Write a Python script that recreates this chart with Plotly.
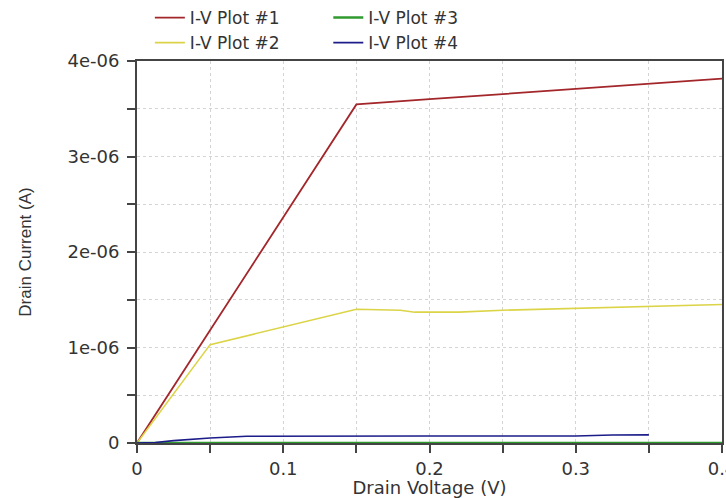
import plotly.graph_objects as go

# Data
x1 = [0, 0.15, 0.2, 0.25, 0.3, 0.35, 0.4]
y1 = [0, 3.545e-6, 3.60e-6, 3.655e-6, 3.71e-6, 3.76e-6, 3.815e-6]

x2 = [0, 0.05, 0.15, 0.18, 0.19, 0.22, 0.25, 0.3, 0.35, 0.4]
y2 = [0, 1.03e-6, 1.40e-6, 1.39e-6, 1.37e-6, 1.37e-6, 1.39e-6, 1.41e-6, 1.43e-6, 1.45e-6]

x3 = [0, 0.1, 0.2, 0.3, 0.4]
y3 = [0, 0, 0, 0, 0]

x4 = [0, 0.0125, 0.025, 0.0375, 0.05, 0.075, 0.1, 0.15, 0.2, 0.25, 0.3, 0.325, 0.35]
y4 = [0, 0.5e-8, 2.5e-8, 4.0e-8, 5.2e-8, 7.0e-8, 7.2e-8, 7.3e-8, 7.3e-8, 7.4e-8, 7.4e-8, 8.3e-8, 8.5e-8]

names = ["I-V Plot #1", "I-V Plot #2", "I-V Plot #3", "I-V Plot #4"]
colors = ["#a3262a", "#dcd447", "#2f9a2f", "#1c1c8a"]
widths = [1.8, 1.6, 2.6, 1.6]

y_tickvals = [0, 1e-6, 2e-6, 3e-6, 4e-6]
y_ticktext = ["0", "1e-06", "2e-06", "3e-06", "4e-06"]
x_tickvals = [0, 0.1, 0.2, 0.3, 0.4]
x_ticktext = ["0", "0.1", "0.2", "0.3", "0.4"]

fig = go.Figure()
series = [(x1, y1), (x2, y2), (x3, y3), (x4, y4)]
legends = ["legend", "legend", "legend2", "legend2"]
for (xs, ys), n, c, w, lg in zip(series, names, colors, widths, legends):
    fig.add_trace(go.Scatter(x=xs, y=ys, mode="lines", name=n,
                             line=dict(color=c, width=w), legend=lg))

font = "DejaVu Sans"
grid = "#d4d4d4"
axc = "#444444"
fig.update_layout(
    width=726, height=498,
    margin=dict(l=137, r=4, t=59, b=55),
    paper_bgcolor="white", plot_bgcolor="white",
    font=dict(family=font, size=17, color="#333333"),
    legend=dict(x=0.022, y=1.0, xref="paper", yref="container", xanchor="left", yanchor="top",
                orientation="v", font=dict(size=17, color="#333333"),
                bgcolor="rgba(0,0,0,0)", tracegroupgap=0),
    legend2=dict(x=0.327, y=1.0, xref="paper", yref="container", xanchor="left", yanchor="top",
                 orientation="v", font=dict(size=17, color="#333333"),
                 bgcolor="rgba(0,0,0,0)", tracegroupgap=0),
    xaxis=dict(
        range=[0, 0.4], tickvals=x_tickvals, ticktext=x_ticktext,
        ticks="outside", ticklen=8, tickcolor=axc, tickwidth=1.5,
        showline=True, linecolor=axc, linewidth=2, mirror=True,
        showgrid=True, gridcolor=grid, griddash="dot", gridwidth=1,
        zeroline=False, automargin=False, ticklabeloverflow="allow",
        minor=dict(dtick=0.05, tick0=0, ticks="outside", ticklen=8, tickcolor=axc,
                   showgrid=True, gridcolor=grid, griddash="dot"),
        title=dict(text="Drain Voltage (V)", font=dict(size=18, family=font, color="#333333"), standoff=0),
        tickfont=dict(size=18),
    ),
    yaxis=dict(
        range=[0, 4e-6], tickvals=y_tickvals, ticktext=y_ticktext,
        ticks="outside", ticklen=8, tickcolor=axc, tickwidth=1.5,
        showline=True, linecolor=axc, linewidth=2, mirror=True,
        showgrid=True, gridcolor=grid, griddash="dot", gridwidth=1,
        zeroline=False, automargin=False, ticklabelstandoff=4,
        minor=dict(dtick=0.5e-6, tick0=0, ticks="outside", ticklen=8, tickcolor=axc,
                   showgrid=True, gridcolor=grid, griddash="dot"),
        title=dict(text="Drain Current (A)", font=dict(size=17, family="Liberation Sans", color="#333333"), standoff=32),
        tickfont=dict(size=18),
    ),
)

fig.write_html("out.html", config={"displayModeBar": False},
               post_script="document.body.style.margin='0';")
